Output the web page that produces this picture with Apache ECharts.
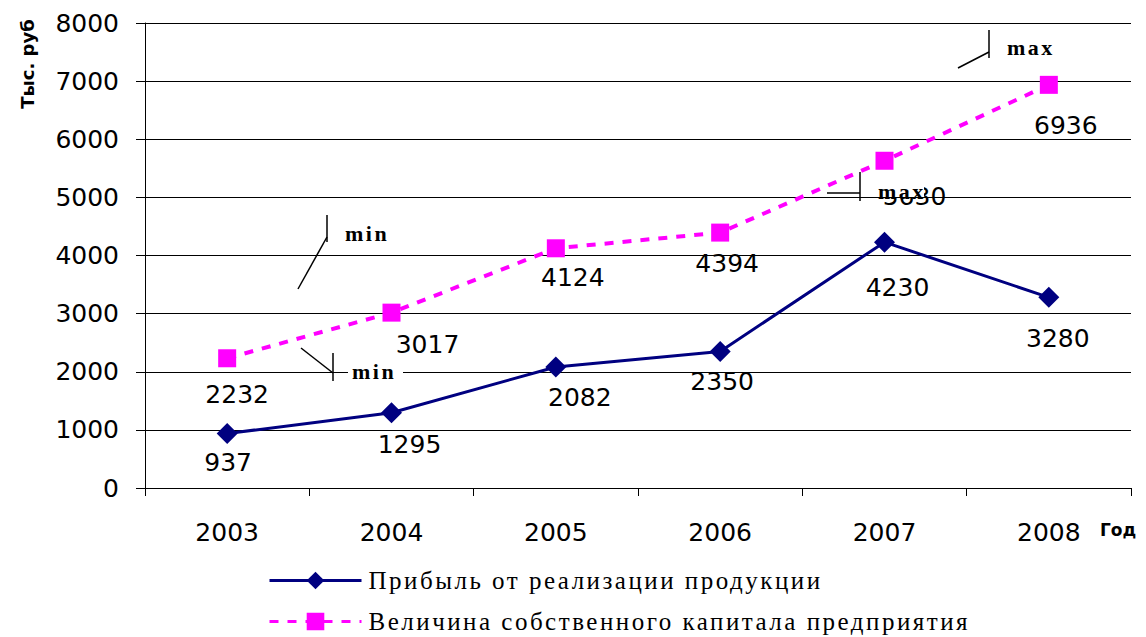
<!DOCTYPE html>
<html>
<head>
<meta charset="utf-8">
<script src="https://cdn.jsdelivr.net/npm/echarts@6/dist/echarts.min.js"></script>
<style>
  html, body { margin: 0; padding: 0; background: #fff; }
  #chart { width: 1146px; height: 637px; }
  /* spaced serif text like in the original picture */
  #chart text[style*="Liberation Serif"] { letter-spacing: 2.5px; }
</style>
</head>
<body>
<div id="chart"></div>
<script>
// data
const years = ['2003', '2004', '2005', '2006', '2007', '2008'];
const profit = [937, 1295, 2082, 2350, 4230, 3280];
const equity = [2232, 3017, 4124, 4394, 5630, 6936];
const yMin = 0;
const yMax = 8000;
const yStep = 1000;
const profitName = 'Прибыль от реализации продукции';
const equityName = 'Величина собственного капитала предприятия';

// label placement relative to each marker (style only)
const profitLabelShift = [[1, 29], [18, 32], [24, 31], [2, 30], [13, 45], [9, 41]];
const equityLabelShift = [[10, 36], [36, 32], [17, 29], [7, 31], [30, 36], [17, 41]];

const numFont = 'DejaVu Sans';
const serifFont = 'Liberation Serif';

function withLabels(values, shifts) {
  return values.map((v, i) => ({
    value: v,
    label: { offset: shifts[i] }
  }));
}

// hand-drawn min / max notes
function note(text, tx, ty, lines, bg) {
  const els = [];
  lines.forEach(l => {
    els.push({
      type: 'line',
      z: 100,
      shape: { x1: l[0], y1: l[1], x2: l[2], y2: l[3] },
      style: { stroke: '#000', lineWidth: 1.5 }
    });
  });
  if (bg) {
    els.push({
      type: 'rect',
      z: 100,
      shape: { x: bg[0], y: bg[1], width: bg[2], height: bg[3] },
      style: { fill: '#fff' }
    });
  }
  els.push({
    type: 'text',
    z: 101,
    x: tx,
    y: ty,
    style: {
      text: text,
      fontFamily: serifFont,
      fontWeight: 'bold',
      fontSize: 22,
      fill: '#000',
      verticalAlign: 'middle',
      align: 'left'
    }
  });
  return els;
}

const chart = echarts.init(document.getElementById('chart'), null, { renderer: 'svg' });

const option = {
  animation: false,
  backgroundColor: '#fff',
  grid: { left: 145, right: 15, top: 23, bottom: 149 },
  legend: {
    orient: 'vertical',
    left: 268,
    top: 568,
    height: 120,
    padding: 0,
    itemWidth: 92,
    itemHeight: 22,
    itemGap: 16,
    lineStyle: { width: 3 },
    textStyle: {
      fontFamily: serifFont,
      fontSize: 25,
      lineHeight: 22,
      color: '#000',
      padding: [0, 0, 0, 2]
    },
    data: [profitName, equityName]
  },
  xAxis: {
    type: 'category',
    data: years,
    boundaryGap: true,
    axisLine: { lineStyle: { color: '#000', width: 1 } },
    axisTick: { show: true, length: 8, lineStyle: { color: '#000' } },
    axisLabel: { margin: 32, fontFamily: numFont, fontSize: 25, color: '#000' },
    splitLine: { show: false }
  },
  yAxis: {
    type: 'value',
    min: yMin,
    max: yMax,
    interval: yStep,
    axisLine: { show: true, lineStyle: { color: '#000', width: 1 } },
    axisTick: { show: true, length: 9, lineStyle: { color: '#000' } },
    axisLabel: {
      margin: 26,
      fontFamily: numFont,
      fontSize: 25,
      color: '#000',
      formatter: v => String(v)
    },
    splitLine: { show: true, lineStyle: { color: '#000', width: 1 } }
  },
  series: [
    {
      name: profitName,
      type: 'line',
      data: withLabels(profit, profitLabelShift),
      symbol: 'diamond',
      symbolSize: [21, 21],
      color: '#000080',
      lineStyle: { color: '#000080', width: 3 },
      itemStyle: { color: '#000080' },
      label: {
        show: true,
        position: 'inside',
        fontFamily: numFont,
        fontSize: 25,
        color: '#000'
      },
      z: 3
    },
    {
      name: equityName,
      type: 'line',
      data: withLabels(equity, equityLabelShift),
      symbol: 'rect',
      symbolSize: 18,
      color: '#ff00ff',
      lineStyle: { color: '#ff00ff', width: 4, type: [9, 9] },
      itemStyle: { color: '#ff00ff' },
      label: {
        show: true,
        position: 'inside',
        fontFamily: numFont,
        fontSize: 25,
        color: '#000'
      },
      z: 2
    }
  ],
  graphic: [
    {
      type: 'text',
      x: 27,
      y: 64,
      rotation: Math.PI / 2,
      style: {
        text: 'Тыс. руб',
        fontFamily: numFont,
        fontWeight: 'bold',
        fontSize: 18,
        fill: '#000',
        align: 'center',
        verticalAlign: 'middle'
      }
    },
    {
      type: 'text',
      x: 1100,
      y: 530,
      style: {
        text: 'Год',
        fontFamily: numFont,
        fontWeight: 'bold',
        fontSize: 17,
        fill: '#000',
        align: 'left',
        verticalAlign: 'middle'
      }
    }
  ]
    .concat(note('min', 345, 233, [[327, 215, 327, 242], [327, 237, 298, 289]], null))
    .concat(note('min', 352, 371, [[333, 353, 333, 381], [301, 348, 333, 373]], [348, 360, 55, 24]))
    .concat(note('max', 878, 191, [[860, 172, 860, 201], [827, 193, 860, 193]], [872, 178, 52, 19]))
    .concat(note('max', 1007, 47, [[989, 30, 989, 58], [958, 68, 989, 52]], null))
};

chart.setOption(option);
</script>
</body>
</html>
